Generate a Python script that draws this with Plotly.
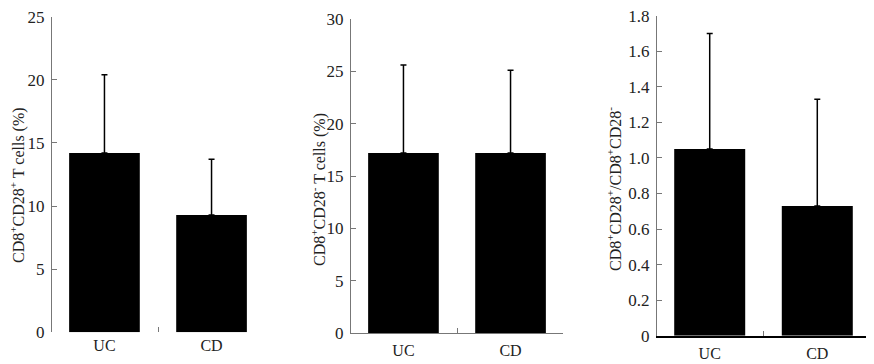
import plotly.graph_objects as go

groups = ["UC", "CD"]

cd28pos_mean = [14.2, 9.3]
cd28pos_sd = [6.2, 4.4]

cd28neg_mean = [17.2, 17.2]
cd28neg_sd = [8.4, 7.9]

ratio_mean = [1.05, 0.73]
ratio_sd = [0.65, 0.60]

ticks1 = [0, 5, 10, 15, 20, 25]
ticks2 = [0, 5, 10, 15, 20, 25, 30]
ticks3 = [0, 0.2, 0.4, 0.6, 0.8, 1.0, 1.2, 1.4, 1.6, 1.8]
ticks3_text = ["0", "0.2", "0.4", "0.6", "0.8", "1.0", "1.2", "1.4", "1.6", "1.8"]

titles = [
    "CD8<sup>+</sup>CD28<sup>+</sup> T cells (%)",
    "CD8<sup>+</sup>CD28<sup>-</sup> T cells (%)",
    "CD8<sup>+</sup>CD28<sup>+</sup>/CD8<sup>+</sup>CD28<sup>-</sup>",
]

# the page body adds an 8px offset; the figure fills the rest of the window
OFF = 8
W, H = 874 - OFF, 364 - OFF
FONT = "Liberation Serif"
AX = "#777777"
TXT = "#222222"

fig = go.Figure()

panels = [
    (cd28pos_mean, cd28pos_sd, "x", "y"),
    (cd28neg_mean, cd28neg_sd, "x2", "y2"),
    (ratio_mean, ratio_sd, "x3", "y3"),
]
for mean, sd, xa, ya in panels:
    fig.add_trace(go.Bar(
        x=groups, y=mean, xaxis=xa, yaxis=ya, width=0.66,
        marker=dict(color="black", line=dict(width=0)),
        error_y=dict(type="data", symmetric=False, array=sd, arrayminus=[0] * len(sd),
                     color="black", thickness=1.5, width=3),
        showlegend=False,
    ))

def px_x(v):
    return (v - OFF) / W

def px_y(v):
    return 1 - (v - OFF) / H

xdoms = [(52, 264), (351, 563), (657, 870)]
ydoms = [(332.3, 16.7), (333.3, 19), (335.7, 15.7)]
yranges = [[0, 25], [0, 30], [0, 1.8]]
ytickvals = [ticks1, ticks2, ticks3]
yticktext = [[str(t) for t in ticks1], [str(t) for t in ticks2], ticks3_text]
xlines = [
    dict(showline=False),
    dict(showline=True, linecolor=AX, linewidth=1),
    dict(showline=True, linecolor="black", linewidth=2),
]

layout = dict(
    width=W, height=H, margin=dict(l=0, r=0, t=0, b=0, pad=0, autoexpand=False),
    paper_bgcolor="white", plot_bgcolor="white",
    font=dict(family=FONT, size=16, color=TXT),
    bargap=0.3,
)
for i in range(3):
    sx = "" if i == 0 else str(i + 1)
    layout["xaxis" + sx] = dict(
        domain=[px_x(xdoms[i][0]), px_x(xdoms[i][1])],
        anchor="y" + sx, type="category", range=[-0.49, 1.49],
        ticks="inside", tickson="boundaries", ticklen=5, tickcolor=AX, tickwidth=1,
        showgrid=False, zeroline=False, fixedrange=True, automargin=False,
        tickfont=dict(family=FONT, size=16, color=TXT),
        ticklabelstandoff=2, ticklabeloverflow="allow",
        **xlines[i],
    )
    layout["yaxis" + sx] = dict(
        domain=[px_y(ydoms[i][0]), px_y(ydoms[i][1])],
        anchor="x" + sx, range=yranges[i],
        tickvals=ytickvals[i], ticktext=yticktext[i],
        ticks="inside", ticklen=5, tickcolor=AX, tickwidth=1,
        showline=True, linecolor=AX, linewidth=1,
        showgrid=False, zeroline=False, automargin=False,
        tickfont=dict(family=FONT, size=17, color=TXT),
        ticklabelstandoff=3, ticklabeloverflow="allow",
    )
fig.update_layout(**layout)

title_x = [18, 318, 614]
title_y = [185, 190, 189]
for i in range(3):
    fig.add_annotation(
        xref="paper", yref="paper", x=px_x(title_x[i]), y=px_y(title_y[i]),
        text=titles[i], textangle=-90, showarrow=False,
        xanchor="center", yanchor="middle",
        font=dict(family=FONT, size=16, color=TXT),
    )

fig.write_html("out.html")
